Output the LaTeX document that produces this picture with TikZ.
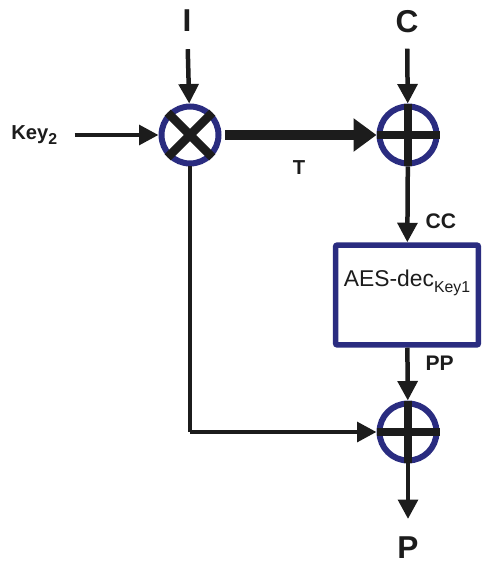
\documentclass[tikz,border=0pt]{standalone}
\usepackage{fontspec}
\setmainfont{Liberation Sans}
\usepackage{tikz}
\usetikzlibrary{arrows.meta}
\definecolor{ringblue}{RGB}{42,44,128}
\definecolor{inkgray}{RGB}{28,28,28}
\tikzset{
  flowarr/.style  = {-{Triangle[length=3.9mm,width=3.9mm]}, line width=0.09cm, inkgray},
  flowln/.style   = {line width=0.08cm, inkgray},
  widearr/.style  = {-{Triangle[length=4.6mm,width=6.4mm]}, line width=0.2cm, inkgray},
  opring/.style   = {circle, draw=ringblue, line width=0.12cm, minimum size=1.14cm, inner sep=0pt},
  markln/.style   = {line width=0.17cm, inkgray},
  declbox/.style  = {draw=ringblue, line width=0.11cm, rounded corners=0.04cm,
                     minimum width=2.86cm, minimum height=2.0cm, inner sep=0pt},
  biglbl/.style   = {font=\fontsize{18}{18}\selectfont\bfseries, text=inkgray},
  smlbl/.style    = {font=\fontsize{11.5}{11.5}\selectfont\bfseries, text=inkgray},
  midlbl/.style   = {font=\fontsize{12}{12}\selectfont\bfseries, text=inkgray}
}
\begin{document}
\begin{tikzpicture}[x=0.02cm,y=-0.02cm]
  \useasboundingbox (0,0) rectangle (481,563);
  % inputs
  \node[biglbl,inner sep=0pt] (lblI) at (187,21) {I};
  \node[biglbl,inner sep=0pt] (lblC) at (407,22) {C};
  \node[smlbl,inner sep=0pt,anchor=west] (lblKey) at (11,135)
        {Key\raisebox{-0.45ex}{\fontsize{9}{9}\selectfont 2}};
  % operators
  \node[opring] (mul)  at (190,135) {};
  \node[opring] (xorA) at (408,135) {};
  \node[opring] (xorB) at (408,432) {};
  \draw[markln] (mul.north west) -- (mul.south east);
  \draw[markln] (mul.north east) -- (mul.south west);
  \foreach \op in {xorA,xorB}
    { \draw[markln] (\op.north) -- (\op.south);
      \draw[markln] (\op.west) -- (\op.east); }
  % decryption block
  \node[declbox] (dec) at (407,295) {};
  \node[font=\fontsize{13}{13}\selectfont, text=inkgray] (declbl) at (407,283)
        {AES-dec\raisebox{-0.55ex}{\fontsize{9}{9}\selectfont Key1}};
  % output
  \node[biglbl,inner sep=0pt] (lblP) at (408,548) {P};
  \coordinate (corner) at (190,432);
  \coordinate (outP) at (408,519);
  % connectors
  \draw[flowarr,shorten <=0.34cm] (lblI) -- (mul);
  \draw[flowarr,shorten <=0.30cm] (lblC) -- (xorA);
  \draw[flowarr,shorten <=0.34cm] (lblKey) -- (mul);
  \draw[widearr,shorten <=0.08cm] (mul) -- (xorA)
        node[midway,below=0.3cm,smlbl]{T};
  \draw[flowarr] (xorA) -- (dec)
        node[pos=0.72,right=0.2cm,midlbl]{CC};
  \draw[flowarr] (dec) -- (xorB)
        node[pos=0.3,right=0.2cm,midlbl]{PP};
  \draw[flowln] (mul.south) -- (corner);
  \draw[flowarr] (corner) -- (xorB);
  \draw[flowarr] (xorB) -- (outP);
\end{tikzpicture}
\end{document}
